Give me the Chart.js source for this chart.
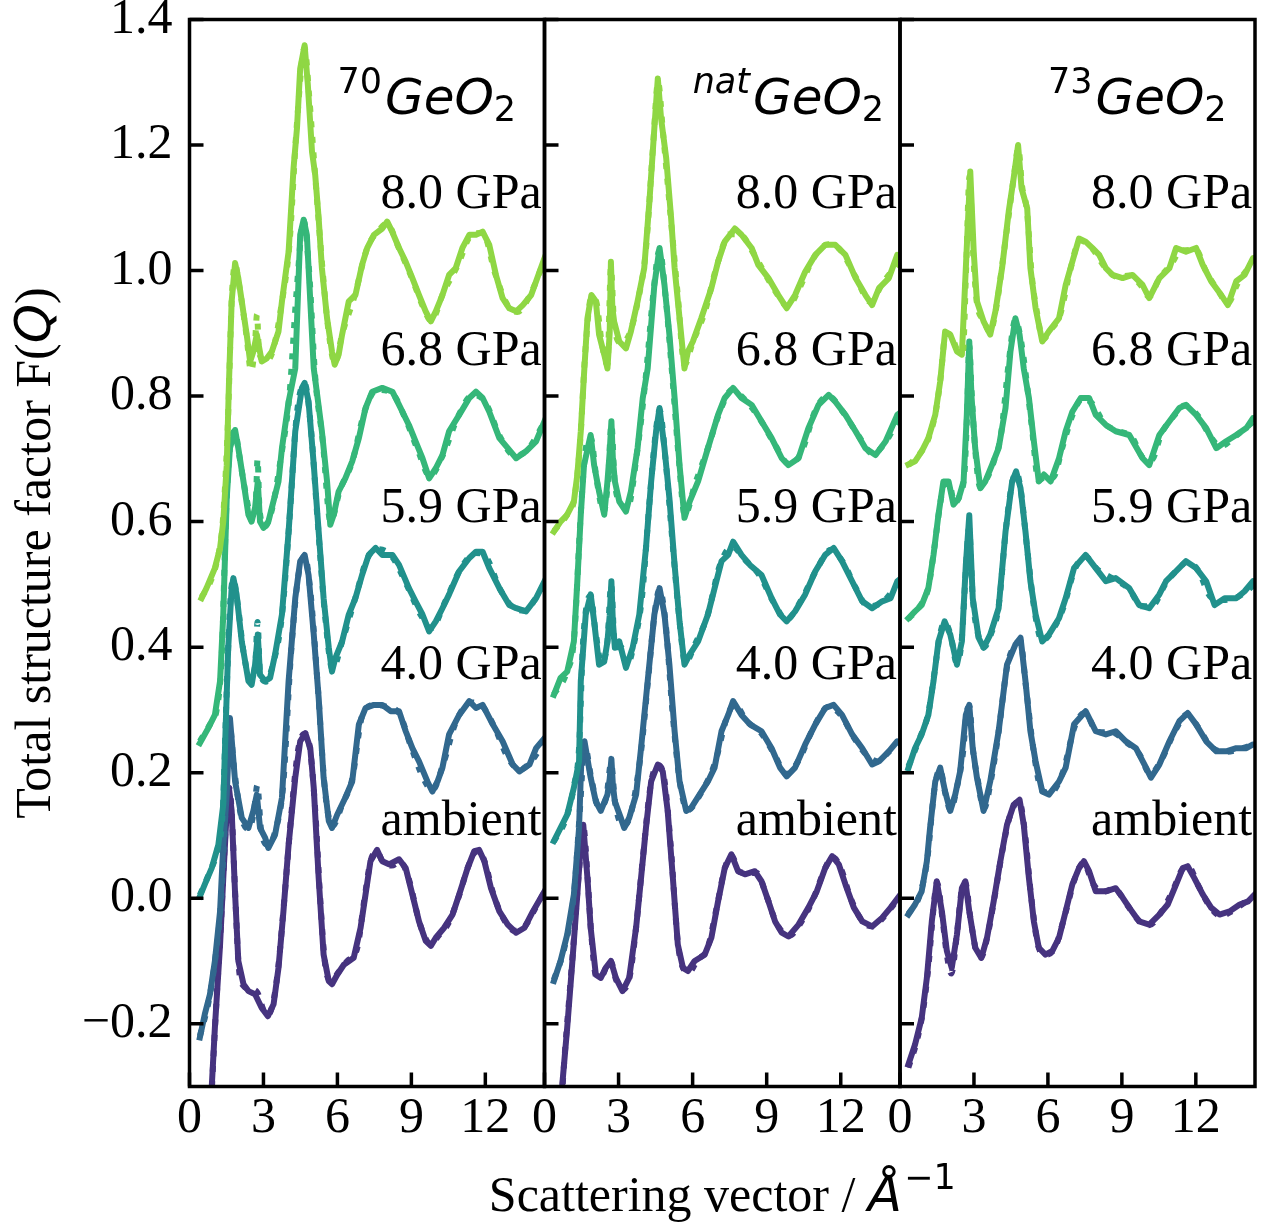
<!DOCTYPE html>
<html>
<head>
<meta charset="utf-8">
<title>Total structure factor of GeO2 under pressure</title>
<script src="https://cdn.jsdelivr.net/npm/chart.js@4.4.1/dist/chart.umd.min.js"></script>
<style>
  html, body { margin: 0; padding: 0; background: #ffffff; }
  #fig { position: relative; width: 1271px; height: 1226px; overflow: hidden; }
  #fig canvas { position: absolute; left: 0; top: 0; }
</style>
</head>
<body>
<div id="fig">
  <canvas id="panel70" width="1271" height="1226"></canvas>
  <canvas id="panelNat" width="1271" height="1226"></canvas>
  <canvas id="panel73" width="1271" height="1226"></canvas>
</div>
<script>
// ---------------------------------------------------------------------------
// Pressure points, vertical offsets between curves and tick values
// ---------------------------------------------------------------------------
const pressures = ['ambient', '4.0 GPa', '5.9 GPa', '6.8 GPa', '8.0 GPa'];
const offsets   = [0, 0.25, 0.5, 0.75, 1.0];
const colours   = ['#46337f', '#31688e', '#21918c', '#35b779', '#8fd744'];
const xTicks    = [0, 3, 6, 9, 12];
const yTicks    = [-0.2, 0, 0.2, 0.4, 0.6, 0.8, 1.0, 1.2, 1.4];

// ---------------------------------------------------------------------------
// Measured F(Q), pairs of [Q (1/Å), F(Q)] -- 70GeO2
// ---------------------------------------------------------------------------
const ge70_amb = [[0.82,-0.37],[0.90,-0.302],[1.03,-0.206],[1.24,-0.074],[1.37,0.032],[1.51,0.139],[1.60,0.176],[1.71,0.139],[1.85,0.006],[1.98,-0.100],[2.19,-0.137],[2.39,-0.148],[2.66,-0.153],[2.93,-0.175],[3.18,-0.188],[3.41,-0.169],[3.61,-0.111],[3.81,-0.021],[4.02,0.085],[4.29,0.192],[4.49,0.250],[4.70,0.263],[4.90,0.239],[5.04,0.176],[5.24,0.032],[5.44,-0.090],[5.65,-0.132],[5.78,-0.137],[5.99,-0.122],[6.26,-0.106],[6.66,-0.095],[6.94,-0.047],[7.14,0.006],[7.34,0.059],[7.61,0.077],[7.82,0.059],[8.09,0.054],[8.50,0.062],[8.77,0.048],[9.04,0.006],[9.31,-0.037],[9.58,-0.068],[9.79,-0.076],[9.99,-0.063],[10.33,-0.047],[10.67,-0.026],[10.94,0.006],[11.28,0.048],[11.55,0.075],[11.75,0.077],[11.96,0.059],[12.23,0.016],[12.57,-0.021],[12.91,-0.042],[13.25,-0.055],[13.59,-0.047],[13.93,-0.021],[14.40,0.011]];
const ge70_p40 = [[0.42,-0.472],[0.62,-0.435],[0.83,-0.403],[1.03,-0.350],[1.24,-0.271],[1.37,-0.165],[1.51,-0.085],[1.64,0.037],[1.85,-0.064],[2.12,-0.122],[2.39,-0.138],[2.59,-0.111],[2.73,-0.085],[2.86,-0.138],[3.07,-0.154],[3.20,-0.170],[3.47,-0.149],[3.75,-0.090],[4.02,0.096],[4.29,0.228],[4.49,0.287],[4.67,0.297],[4.83,0.265],[5.04,0.170],[5.24,0.069],[5.44,-0.058],[5.65,-0.127],[5.78,-0.138],[5.99,-0.117],[6.32,-0.090],[6.60,-0.064],[6.87,0.027],[7.14,0.053],[7.48,0.058],[7.82,0.058],[8.16,0.048],[8.50,0.048],[8.77,0.016],[9.04,-0.011],[9.31,-0.032],[9.65,-0.064],[9.85,-0.080],[10.06,-0.064],[10.26,-0.042],[10.53,0.011],[10.94,0.042],[11.35,0.064],[11.62,0.053],[11.89,0.058],[12.30,0.027],[12.70,0.000],[13.11,-0.037],[13.38,-0.048],[13.79,-0.037],[14.06,-0.011],[14.40,0.005]];
const ge70_p59 = [[0.42,-0.497],[0.62,-0.478],[0.90,-0.452],[1.17,-0.415],[1.37,-0.351],[1.44,-0.261],[1.57,-0.101],[1.71,-0.006],[1.78,0.010],[1.91,-0.016],[2.12,-0.091],[2.39,-0.154],[2.52,-0.160],[2.66,-0.128],[2.77,-0.080],[2.86,-0.144],[3.07,-0.154],[3.27,-0.149],[3.47,-0.112],[3.75,-0.048],[4.02,0.084],[4.29,0.244],[4.56,0.313],[4.67,0.321],[4.83,0.291],[5.04,0.191],[5.24,0.084],[5.44,-0.022],[5.65,-0.101],[5.78,-0.139],[5.92,-0.117],[6.19,-0.091],[6.46,-0.048],[6.73,-0.022],[7.00,0.015],[7.27,0.047],[7.55,0.058],[7.82,0.047],[8.23,0.047],[8.50,0.031],[8.90,-0.006],[9.17,-0.027],[9.45,-0.048],[9.72,-0.075],[9.99,-0.059],[10.26,-0.038],[10.53,-0.016],[10.94,0.021],[11.35,0.042],[11.62,0.052],[11.89,0.052],[12.16,0.026],[12.57,-0.006],[12.97,-0.033],[13.25,-0.038],[13.65,-0.043],[14.06,-0.022],[14.40,0.005]];
const ge70_p68 = [[0.42,-0.503],[0.76,-0.479],[1.03,-0.458],[1.24,-0.404],[1.37,-0.298],[1.51,-0.113],[1.64,-0.033],[1.85,-0.004],[1.98,-0.033],[2.19,-0.086],[2.39,-0.139],[2.52,-0.150],[2.66,-0.128],[2.77,-0.086],[2.86,-0.150],[3.00,-0.160],[3.20,-0.150],[3.34,-0.128],[3.61,-0.086],[3.75,-0.033],[4.02,0.041],[4.29,0.094],[4.49,0.307],[4.63,0.331],[4.76,0.307],[4.90,0.201],[5.04,0.094],[5.37,-0.006],[5.58,-0.086],[5.71,-0.155],[5.85,-0.139],[6.05,-0.102],[6.32,-0.081],[6.60,-0.054],[6.87,-0.017],[7.14,0.031],[7.41,0.057],[7.82,0.063],[8.23,0.057],[8.50,0.036],[8.90,0.004],[9.17,-0.022],[9.45,-0.049],[9.72,-0.081],[9.99,-0.065],[10.26,-0.044],[10.53,-0.006],[10.94,0.020],[11.35,0.047],[11.62,0.057],[11.89,0.047],[12.16,0.025],[12.57,-0.017],[12.91,-0.033],[13.25,-0.049],[13.65,-0.038],[14.06,-0.022],[14.40,0.010]];
const ge70_p80 = [[0.49,-0.522],[0.69,-0.506],[1.03,-0.474],[1.24,-0.442],[1.37,-0.400],[1.51,-0.310],[1.60,-0.180],[1.71,-0.049],[1.85,0.012],[1.98,-0.012],[2.12,-0.049],[2.32,-0.102],[2.46,-0.145],[2.59,-0.129],[2.73,-0.102],[2.93,-0.145],[3.13,-0.140],[3.34,-0.129],[3.61,-0.097],[3.75,-0.049],[4.02,0.030],[4.22,0.163],[4.36,0.227],[4.49,0.322],[4.67,0.359],[4.80,0.296],[4.97,0.189],[5.10,0.152],[5.24,0.083],[5.37,0.004],[5.58,-0.076],[5.78,-0.129],[5.89,-0.150],[6.05,-0.134],[6.19,-0.102],[6.46,-0.049],[6.73,-0.039],[7.00,0.009],[7.21,0.036],[7.48,0.057],[7.82,0.067],[8.02,0.078],[8.22,0.062],[8.50,0.036],[8.77,0.014],[9.04,-0.012],[9.31,-0.039],[9.58,-0.065],[9.79,-0.081],[9.99,-0.065],[10.26,-0.039],[10.53,-0.007],[10.80,0.004],[11.07,0.036],[11.35,0.057],[11.62,0.057],[11.89,0.062],[12.16,0.041],[12.43,-0.007],[12.70,-0.044],[12.97,-0.060],[13.25,-0.065],[13.52,-0.055],[13.86,-0.039],[14.06,-0.017],[14.40,0.020]];

// Model F(Q), 70GeO2
const fit70_amb = [[0.80,-0.40],[0.95,-0.27],[1.10,-0.16],[1.25,-0.06],[1.40,0.06],[1.52,0.15],[1.62,0.175],[1.72,0.13],[1.85,0.01],[2.0,-0.11],[2.2,-0.14],[2.5,-0.145],[2.75,-0.15],[3.0,-0.178],[3.18,-0.186],[3.4,-0.165],[3.6,-0.11],[3.85,0.0],[4.1,0.12],[4.4,0.235],[4.68,0.262],[4.9,0.235],[5.1,0.14],[5.3,0.0],[5.5,-0.105],[5.75,-0.132],[6.0,-0.12],[6.4,-0.1],[6.8,-0.08],[7.1,0.0],[7.35,0.06],[7.6,0.074],[7.85,0.057],[8.2,0.052],[8.55,0.058],[8.9,0.03],[9.3,-0.035],[9.6,-0.066],[9.8,-0.073],[10.1,-0.06],[10.5,-0.04],[10.9,0.0],[11.3,0.05],[11.55,0.072],[11.75,0.075],[12.0,0.055],[12.3,0.01],[12.7,-0.03],[13.2,-0.052],[13.6,-0.045],[14.0,-0.018],[14.45,0.014]];
const fit70_p40 = [[0.42,-0.47],[0.8,-0.41],[1.05,-0.345],[1.25,-0.27],[1.45,-0.12],[1.62,0.03],[1.8,-0.04],[2.1,-0.12],[2.4,-0.14],[2.62,-0.11],[2.75,-0.07],[2.9,-0.14],[3.2,-0.165],[3.5,-0.14],[3.8,-0.07],[4.1,0.13],[4.4,0.26],[4.67,0.295],[4.9,0.24],[5.2,0.09],[5.5,-0.08],[5.8,-0.135],[6.2,-0.1],[6.6,-0.06],[7.0,0.04],[7.5,0.058],[8.0,0.055],[8.5,0.045],[9.0,-0.01],[9.5,-0.06],[9.85,-0.078],[10.3,-0.035],[10.8,0.03],[11.4,0.062],[11.9,0.055],[12.4,0.02],[12.9,-0.025],[13.4,-0.045],[13.9,-0.03],[14.45,0.005]];
const fit70_p59 = [[0.42,-0.495],[0.8,-0.46],[1.15,-0.42],[1.35,-0.36],[1.5,-0.18],[1.65,-0.03],[1.78,0.008],[1.95,-0.03],[2.2,-0.11],[2.5,-0.155],[2.68,-0.12],[2.76,-0.06],[2.86,-0.14],[3.1,-0.155],[3.4,-0.125],[3.75,-0.05],[4.05,0.1],[4.35,0.27],[4.67,0.32],[4.9,0.26],[5.2,0.1],[5.5,-0.05],[5.8,-0.135],[6.2,-0.09],[6.7,-0.025],[7.2,0.04],[7.6,0.056],[8.2,0.045],[8.8,0.0],[9.4,-0.05],[9.8,-0.07],[10.4,-0.025],[11.0,0.025],[11.6,0.05],[12.0,0.045],[12.6,-0.008],[13.1,-0.036],[13.6,-0.042],[14.0,-0.025],[14.45,0.006]];
const fit70_p68 = [[0.42,-0.50],[0.8,-0.475],[1.1,-0.45],[1.3,-0.37],[1.5,-0.12],[1.68,-0.02],[1.85,-0.006],[2.0,-0.04],[2.3,-0.11],[2.55,-0.15],[2.7,-0.11],[2.76,-0.05],[2.84,-0.13],[3.05,-0.158],[3.35,-0.13],[3.7,-0.05],[4.05,0.05],[4.35,0.22],[4.63,0.33],[4.85,0.25],[5.1,0.08],[5.4,-0.02],[5.72,-0.15],[6.1,-0.1],[6.6,-0.055],[7.1,0.025],[7.6,0.06],[8.2,0.055],[8.8,0.01],[9.3,-0.04],[9.75,-0.078],[10.3,-0.042],[10.9,0.018],[11.5,0.052],[12.0,0.04],[12.6,-0.015],[13.2,-0.045],[13.7,-0.036],[14.45,0.012]];
const fit70_p80 = [[0.49,-0.52],[0.8,-0.50],[1.1,-0.465],[1.35,-0.40],[1.55,-0.25],[1.72,-0.04],[1.85,0.01],[2.0,-0.02],[2.3,-0.10],[2.5,-0.16],[2.65,-0.12],[2.74,-0.07],[2.82,-0.13],[3.1,-0.145],[3.4,-0.125],[3.75,-0.05],[4.05,0.04],[4.35,0.23],[4.67,0.355],[4.85,0.28],[5.1,0.15],[5.4,0.0],[5.65,-0.1],[5.9,-0.148],[6.2,-0.1],[6.7,-0.04],[7.2,0.035],[7.7,0.065],[8.0,0.075],[8.5,0.035],[9.0,-0.01],[9.5,-0.06],[9.8,-0.08],[10.3,-0.035],[10.9,0.01],[11.4,0.055],[11.9,0.06],[12.4,-0.005],[12.9,-0.055],[13.3,-0.066],[13.8,-0.04],[14.45,0.022]];

// ---------------------------------------------------------------------------
// Measured F(Q) -- natGeO2
// ---------------------------------------------------------------------------
const geNat_amb = [[0.62,-0.37],[0.72,-0.297],[0.92,-0.206],[1.13,-0.100],[1.33,0.006],[1.47,0.085],[1.57,0.117],[1.74,0.032],[1.87,-0.047],[2.08,-0.122],[2.28,-0.127],[2.48,-0.111],[2.69,-0.100],[2.89,-0.127],[3.16,-0.148],[3.43,-0.127],[3.71,-0.047],[3.91,0.032],[4.11,0.112],[4.32,0.186],[4.59,0.213],[4.79,0.202],[4.99,0.139],[5.20,0.032],[5.40,-0.074],[5.61,-0.111],[5.81,-0.116],[6.08,-0.100],[6.49,-0.090],[6.76,-0.063],[7.03,-0.005],[7.30,0.048],[7.57,0.070],[7.84,0.043],[8.12,0.038],[8.52,0.043],[8.79,0.027],[9.07,-0.005],[9.34,-0.037],[9.61,-0.055],[9.88,-0.061],[10.29,-0.042],[10.69,-0.015],[11.03,0.011],[11.37,0.048],[11.65,0.067],[11.92,0.054],[12.19,0.022],[12.53,-0.015],[12.87,-0.037],[13.27,-0.045],[13.68,-0.031],[14.02,-0.015],[14.36,0.003]];
const geNat_p40 = [[0.38,-0.382],[0.65,-0.350],[0.92,-0.308],[1.19,-0.244],[1.40,-0.138],[1.49,-0.032],[1.62,0.000],[1.87,-0.058],[2.08,-0.096],[2.28,-0.111],[2.55,-0.085],[2.64,-0.06],[2.71,-0.028],[2.77,-0.07],[2.85,-0.096],[3.09,-0.122],[3.23,-0.138],[3.43,-0.122],[3.71,-0.085],[3.91,-0.011],[4.18,0.096],[4.45,0.202],[4.66,0.244],[4.86,0.202],[5.06,0.122],[5.27,0.016],[5.47,-0.064],[5.74,-0.111],[5.94,-0.106],[6.28,-0.085],[6.62,-0.064],[6.89,-0.042],[7.17,0.016],[7.44,0.042],[7.64,0.064],[7.98,0.042],[8.32,0.027],[8.79,0.016],[9.20,-0.011],[9.54,-0.042],[9.81,-0.056],[10.15,-0.042],[10.56,-0.005],[10.97,0.027],[11.37,0.053],[11.71,0.058],[12.05,0.042],[12.46,0.011],[12.87,-0.011],[13.27,-0.037],[13.55,-0.032],[13.95,-0.016],[14.29,0.000],[14.45,-0.005]];
const geNat_p59 = [[0.38,-0.409],[0.65,-0.388],[0.92,-0.367],[1.19,-0.324],[1.40,-0.282],[1.47,-0.154],[1.67,-0.048],[1.87,-0.016],[2.01,-0.059],[2.21,-0.128],[2.42,-0.123],[2.55,-0.091],[2.64,-0.05],[2.71,0.005],[2.77,-0.06],[2.85,-0.101],[3.03,-0.091],[3.30,-0.133],[3.57,-0.101],[3.84,-0.048],[4.11,0.058],[4.32,0.164],[4.52,0.244],[4.66,0.281],[4.86,0.217],[5.06,0.137],[5.27,0.031],[5.47,-0.059],[5.67,-0.128],[5.88,-0.112],[6.22,-0.091],[6.62,-0.048],[6.89,-0.006],[7.17,0.037],[7.44,0.047],[7.64,0.068],[7.98,0.047],[8.32,0.031],[8.79,0.015],[9.20,-0.022],[9.54,-0.048],[9.81,-0.059],[10.15,-0.043],[10.56,-0.016],[10.97,0.021],[11.37,0.047],[11.71,0.058],[12.05,0.037],[12.46,0.005],[12.87,-0.027],[13.27,-0.038],[13.68,-0.027],[14.02,-0.022],[14.29,0.005],[14.45,0.010]];
const geNat_p68 = [[0.38,-0.426],[0.65,-0.399],[0.92,-0.389],[1.19,-0.341],[1.33,-0.245],[1.47,-0.139],[1.60,-0.060],[1.87,-0.012],[2.01,-0.060],[2.21,-0.102],[2.42,-0.139],[2.55,-0.086],[2.64,-0.04],[2.71,0.010],[2.77,-0.05],[2.85,-0.086],[3.03,-0.118],[3.30,-0.134],[3.50,-0.102],[3.77,-0.033],[3.98,0.047],[4.18,0.094],[4.45,0.227],[4.66,0.286],[4.86,0.227],[5.06,0.148],[5.27,0.047],[5.47,-0.060],[5.67,-0.144],[5.88,-0.118],[6.22,-0.086],[6.62,-0.033],[7.03,0.020],[7.30,0.047],[7.64,0.063],[7.98,0.047],[8.39,0.036],[8.79,0.010],[9.20,-0.017],[9.61,-0.049],[9.88,-0.060],[10.29,-0.049],[10.69,-0.001],[11.10,0.036],[11.51,0.052],[11.78,0.041],[12.19,0.020],[12.60,-0.006],[13.00,-0.033],[13.41,-0.044],[13.82,-0.022],[14.29,0.020],[14.45,0.025]];
const geNat_p80 = [[0.38,-0.416],[0.65,-0.400],[0.92,-0.389],[1.19,-0.368],[1.33,-0.325],[1.47,-0.256],[1.60,-0.166],[1.74,-0.076],[1.90,-0.039],[2.08,-0.049],[2.21,-0.102],[2.42,-0.134],[2.55,-0.156],[2.64,-0.10],[2.69,0.014],[2.75,-0.06],[2.82,-0.081],[3.03,-0.113],[3.30,-0.124],[3.50,-0.097],[3.77,-0.049],[4.04,0.004],[4.25,0.110],[4.45,0.227],[4.59,0.306],[4.72,0.243],[4.93,0.179],[5.13,0.083],[5.27,0.004],[5.47,-0.076],[5.67,-0.156],[5.81,-0.129],[6.01,-0.113],[6.35,-0.076],[6.76,-0.028],[7.03,0.014],[7.30,0.046],[7.71,0.067],[7.98,0.057],[8.39,0.036],[8.66,0.009],[9.07,-0.012],[9.47,-0.039],[9.81,-0.060],[10.15,-0.039],[10.56,-0.002],[10.97,0.025],[11.37,0.041],[11.78,0.041],[12.19,0.025],[12.60,-0.012],[13.00,-0.039],[13.27,-0.055],[13.55,-0.028],[13.95,-0.012],[14.29,0.025],[14.45,0.020]];

// Model F(Q), natGeO2
const fitNat_amb = [[0.62,-0.37],[0.8,-0.26],[1.0,-0.16],[1.2,-0.06],[1.4,0.045],[1.57,0.115],[1.75,0.03],[1.9,-0.06],[2.1,-0.125],[2.3,-0.125],[2.5,-0.11],[2.68,-0.1],[2.9,-0.13],[3.15,-0.146],[3.45,-0.125],[3.7,-0.05],[4.0,0.07],[4.3,0.18],[4.6,0.212],[4.85,0.19],[5.1,0.09],[5.4,-0.07],[5.6,-0.11],[5.85,-0.118],[6.2,-0.098],[6.6,-0.08],[7.0,-0.01],[7.3,0.047],[7.57,0.068],[7.9,0.042],[8.3,0.04],[8.6,0.04],[9.0,0.003],[9.4,-0.04],[9.9,-0.06],[10.4,-0.038],[10.9,0.0],[11.35,0.046],[11.65,0.066],[12.0,0.048],[12.4,0.0],[12.9,-0.038],[13.3,-0.045],[13.8,-0.027],[14.45,0.006]];
const fitNat_p40 = [[0.38,-0.38],[0.8,-0.33],[1.2,-0.24],[1.45,-0.10],[1.62,-0.005],[1.9,-0.06],[2.2,-0.105],[2.5,-0.09],[2.7,-0.035],[2.85,-0.095],[3.2,-0.135],[3.5,-0.115],[3.9,-0.02],[4.2,0.1],[4.45,0.2],[4.66,0.242],[4.9,0.19],[5.2,0.04],[5.5,-0.07],[5.8,-0.11],[6.3,-0.085],[6.9,-0.035],[7.4,0.04],[7.7,0.058],[8.2,0.032],[8.8,0.012],[9.3,-0.02],[9.8,-0.052],[10.3,-0.03],[10.9,0.022],[11.5,0.055],[12.0,0.042],[12.5,0.008],[13.0,-0.02],[13.5,-0.032],[14.0,-0.015],[14.45,-0.004]];
const fitNat_p59 = [[0.38,-0.41],[0.9,-0.37],[1.2,-0.32],[1.4,-0.26],[1.55,-0.1],[1.7,-0.035],[1.87,-0.018],[2.05,-0.07],[2.3,-0.125],[2.55,-0.09],[2.7,0.0],[2.85,-0.1],[3.1,-0.1],[3.35,-0.128],[3.65,-0.09],[3.95,-0.02],[4.25,0.13],[4.5,0.24],[4.66,0.278],[4.9,0.2],[5.2,0.06],[5.5,-0.07],[5.7,-0.125],[6.1,-0.095],[6.6,-0.05],[7.1,0.03],[7.6,0.06],[8.1,0.04],[8.7,0.015],[9.3,-0.03],[9.8,-0.056],[10.4,-0.025],[11.0,0.022],[11.6,0.055],[12.1,0.035],[12.6,-0.005],[13.1,-0.035],[13.7,-0.028],[14.45,0.008]];
const fitNat_p68 = [[0.38,-0.425],[0.9,-0.39],[1.2,-0.335],[1.45,-0.15],[1.65,-0.04],[1.87,-0.015],[2.1,-0.08],[2.4,-0.135],[2.58,-0.08],[2.71,0.005],[2.84,-0.085],[3.1,-0.12],[3.35,-0.13],[3.75,-0.04],[4.1,0.08],[4.4,0.21],[4.66,0.283],[4.9,0.21],[5.2,0.07],[5.45,-0.055],[5.68,-0.14],[6.1,-0.09],[6.6,-0.035],[7.1,0.025],[7.6,0.06],[8.1,0.045],[8.7,0.015],[9.3,-0.025],[9.9,-0.058],[10.4,-0.04],[11.0,0.03],[11.5,0.05],[12.1,0.024],[12.7,-0.012],[13.3,-0.042],[13.8,-0.024],[14.45,0.022]];
const fitNat_p80 = [[0.38,-0.415],[0.9,-0.39],[1.2,-0.365],[1.45,-0.27],[1.65,-0.13],[1.9,-0.042],[2.1,-0.05],[2.3,-0.11],[2.55,-0.15],[2.69,0.005],[2.82,-0.085],[3.1,-0.115],[3.45,-0.1],[3.8,-0.045],[4.1,0.03],[4.4,0.2],[4.6,0.3],[4.8,0.22],[5.1,0.09],[5.4,-0.04],[5.67,-0.15],[6.0,-0.115],[6.5,-0.065],[7.0,0.01],[7.5,0.058],[7.9,0.058],[8.5,0.025],[9.0,-0.01],[9.5,-0.042],[9.85,-0.058],[10.3,-0.03],[10.9,0.02],[11.5,0.042],[12.0,0.032],[12.6,-0.01],[13.2,-0.05],[13.7,-0.02],[14.45,0.018]];

// ---------------------------------------------------------------------------
// Measured F(Q) -- 73GeO2
// ---------------------------------------------------------------------------
const ge73_amb = [[0.34,-0.265],[0.61,-0.233],[0.88,-0.191],[1.09,-0.127],[1.29,-0.037],[1.49,0.027],[1.70,-0.021],[1.90,-0.084],[2.10,-0.111],[2.31,-0.058],[2.51,0.016],[2.65,0.027],[2.81,-0.021],[3.05,-0.079],[3.30,-0.095],[3.53,-0.063],[3.80,-0.005],[4.07,0.059],[4.34,0.117],[4.61,0.149],[4.85,0.157],[5.02,0.117],[5.23,0.032],[5.43,-0.037],[5.63,-0.079],[5.90,-0.090],[6.18,-0.084],[6.45,-0.063],[6.72,-0.021],[6.99,0.022],[7.26,0.048],[7.46,0.059],[7.67,0.043],[7.94,0.011],[8.35,0.011],[8.75,0.016],[9.03,0.001],[9.30,-0.015],[9.70,-0.037],[10.11,-0.042],[10.52,-0.026],[10.86,-0.010],[11.20,0.022],[11.47,0.048],[11.67,0.051],[11.94,0.032],[12.28,0.006],[12.62,-0.015],[12.96,-0.026],[13.37,-0.021],[13.78,-0.010],[14.12,-0.005],[14.39,0.006]];
const ge73_p40 = [[0.34,-0.276],[0.61,-0.260],[0.88,-0.239],[1.09,-0.191],[1.22,-0.138],[1.43,-0.064],[1.63,-0.042],[1.83,-0.080],[2.04,-0.111],[2.24,-0.085],[2.44,-0.048],[2.67,0.042],[2.81,0.058],[2.95,-0.011],[3.12,-0.058],[3.39,-0.111],[3.66,-0.064],[4.00,0.016],[4.34,0.122],[4.68,0.154],[4.89,0.165],[5.09,0.096],[5.29,0.016],[5.50,-0.032],[5.77,-0.080],[6.04,-0.085],[6.45,-0.064],[6.72,-0.042],[7.06,0.027],[7.53,0.048],[7.94,0.016],[8.35,0.011],[8.75,0.016],[9.16,0.000],[9.57,-0.011],[9.98,-0.042],[10.18,-0.058],[10.52,-0.037],[10.93,0.000],[11.33,0.032],[11.67,0.045],[12.01,0.027],[12.42,0.000],[12.83,-0.016],[13.23,-0.016],[13.64,-0.011],[14.05,-0.011],[14.32,-0.005],[14.45,-0.005]];
const ge73_p59 = [[0.34,-0.293],[0.61,-0.261],[0.88,-0.239],[1.15,-0.208],[1.36,-0.154],[1.56,-0.091],[1.81,-0.059],[2.04,-0.080],[2.31,-0.128],[2.51,-0.091],[2.67,0.031],[2.81,0.110],[2.95,-0.022],[3.19,-0.085],[3.39,-0.101],[3.66,-0.080],[4.00,-0.038],[4.28,0.084],[4.55,0.164],[4.71,0.180],[4.89,0.153],[5.09,0.084],[5.29,0.005],[5.50,-0.048],[5.77,-0.091],[6.04,-0.080],[6.45,-0.054],[6.72,-0.022],[7.06,0.026],[7.53,0.047],[7.94,0.026],[8.35,0.005],[8.75,0.010],[9.30,-0.006],[9.70,-0.033],[10.11,-0.038],[10.52,-0.016],[10.79,0.005],[11.20,0.021],[11.60,0.037],[12.01,0.026],[12.42,0.005],[12.76,-0.033],[13.17,-0.022],[13.64,-0.022],[13.98,-0.011],[14.32,0.005],[14.45,0.000]];
const ge73_p68 = [[0.34,-0.304],[0.61,-0.293],[0.88,-0.283],[1.15,-0.256],[1.36,-0.203],[1.56,-0.139],[1.76,-0.086],[1.97,-0.086],[2.17,-0.123],[2.38,-0.113],[2.58,-0.086],[2.71,0.020],[2.81,0.137],[2.90,0.050],[3.05,-0.033],[3.26,-0.097],[3.46,-0.086],[3.73,-0.060],[4.00,-0.033],[4.28,0.031],[4.48,0.121],[4.68,0.174],[4.85,0.148],[5.02,0.094],[5.23,0.047],[5.43,-0.022],[5.63,-0.086],[5.84,-0.075],[6.11,-0.086],[6.45,-0.049],[6.72,-0.006],[6.99,0.025],[7.33,0.047],[7.67,0.047],[7.94,0.020],[8.35,0.004],[8.75,-0.006],[9.30,-0.012],[9.84,-0.049],[10.11,-0.060],[10.52,-0.012],[10.93,0.010],[11.33,0.031],[11.60,0.036],[12.01,0.020],[12.42,-0.001],[12.83,-0.033],[13.23,-0.022],[13.64,-0.012],[14.05,-0.001],[14.32,0.015],[14.45,0.015]];
const ge73_p80 = [[0.34,-0.309],[0.61,-0.304],[0.88,-0.288],[1.15,-0.267],[1.43,-0.230],[1.63,-0.177],[1.83,-0.097],[2.04,-0.102],[2.31,-0.129],[2.51,-0.134],[2.67,0.004],[2.85,0.158],[2.99,0.030],[3.12,-0.049],[3.39,-0.081],[3.66,-0.102],[3.87,-0.065],[4.14,0.004],[4.41,0.094],[4.61,0.147],[4.79,0.200],[4.93,0.131],[5.16,0.099],[5.29,0.004],[5.50,-0.060],[5.77,-0.113],[6.04,-0.097],[6.45,-0.076],[6.72,-0.023],[6.99,0.014],[7.26,0.051],[7.53,0.046],[7.80,0.036],[8.08,0.025],[8.35,0.004],[8.62,-0.007],[9.03,-0.012],[9.43,-0.007],[9.84,-0.023],[10.11,-0.044],[10.52,-0.012],[10.93,0.004],[11.20,0.036],[11.60,0.030],[12.01,0.036],[12.28,0.009],[12.62,-0.017],[13.03,-0.039],[13.30,-0.055],[13.64,-0.017],[13.98,-0.007],[14.32,0.020],[14.45,0.020]];

// Model F(Q), 73GeO2
const fit73_amb = [[0.34,-0.27],[0.7,-0.225],[0.95,-0.175],[1.15,-0.11],[1.35,-0.02],[1.5,0.025],[1.7,-0.025],[1.9,-0.09],[2.08,-0.12],[2.3,-0.06],[2.5,0.012],[2.65,0.025],[2.85,-0.03],[3.1,-0.085],[3.3,-0.093],[3.55,-0.06],[3.85,0.005],[4.15,0.075],[4.45,0.13],[4.83,0.155],[5.05,0.11],[5.3,0.01],[5.6,-0.075],[5.9,-0.09],[6.3,-0.078],[6.7,-0.025],[7.1,0.032],[7.45,0.057],[7.8,0.025],[8.2,0.01],[8.7,0.015],[9.2,-0.01],[9.7,-0.036],[10.1,-0.043],[10.6,-0.022],[11.1,0.015],[11.45,0.046],[11.7,0.05],[12.1,0.02],[12.6,-0.015],[13.0,-0.028],[13.5,-0.02],[14.0,-0.006],[14.45,0.006]];
const fit73_p40 = [[0.34,-0.275],[0.8,-0.245],[1.1,-0.19],[1.4,-0.075],[1.62,-0.045],[1.85,-0.085],[2.05,-0.11],[2.3,-0.075],[2.55,-0.02],[2.72,0.05],[2.82,0.055],[2.95,-0.01],[3.15,-0.06],[3.4,-0.108],[3.7,-0.06],[4.0,0.015],[4.35,0.12],[4.7,0.155],[4.88,0.16],[5.1,0.09],[5.4,-0.01],[5.75,-0.078],[6.1,-0.082],[6.6,-0.05],[7.1,0.025],[7.5,0.045],[8.0,0.015],[8.6,0.014],[9.2,-0.002],[9.7,-0.02],[10.15,-0.052],[10.6,-0.03],[11.1,0.012],[11.65,0.043],[12.1,0.022],[12.6,-0.008],[13.2,-0.017],[13.8,-0.012],[14.45,-0.004]];
const fit73_p59 = [[0.34,-0.29],[0.8,-0.245],[1.15,-0.205],[1.4,-0.14],[1.6,-0.085],[1.8,-0.06],[2.05,-0.08],[2.3,-0.125],[2.5,-0.09],[2.68,0.03],[2.8,0.09],[2.95,-0.02],[3.2,-0.085],[3.4,-0.1],[3.7,-0.078],[4.0,-0.035],[4.3,0.09],[4.55,0.162],[4.72,0.178],[4.9,0.15],[5.15,0.06],[5.45,-0.04],[5.77,-0.09],[6.1,-0.078],[6.6,-0.04],[7.1,0.025],[7.5,0.045],[8.0,0.024],[8.6,0.01],[9.3,-0.008],[9.8,-0.035],[10.2,-0.035],[10.8,0.003],[11.3,0.025],[11.65,0.036],[12.1,0.022],[12.6,-0.02],[13.1,-0.025],[13.7,-0.02],[14.45,0.002]];
const fit73_p68 = [[0.34,-0.305],[0.8,-0.285],[1.15,-0.255],[1.4,-0.19],[1.6,-0.13],[1.8,-0.09],[2.0,-0.09],[2.2,-0.12],[2.45,-0.105],[2.62,-0.07],[2.72,0.02],[2.81,0.13],[2.9,0.06],[3.05,-0.035],[3.25,-0.095],[3.5,-0.083],[3.8,-0.055],[4.1,-0.01],[4.4,0.1],[4.68,0.172],[4.88,0.145],[5.1,0.085],[5.35,0.0],[5.62,-0.085],[5.9,-0.078],[6.2,-0.08],[6.6,-0.03],[7.0,0.02],[7.4,0.046],[7.8,0.038],[8.3,0.006],[8.9,-0.006],[9.4,-0.015],[9.9,-0.05],[10.2,-0.052],[10.6,-0.01],[11.1,0.018],[11.55,0.035],[12.1,0.018],[12.6,-0.015],[13.0,-0.03],[13.6,-0.014],[14.45,0.013]];
const fit73_p80 = [[0.34,-0.31],[0.8,-0.292],[1.15,-0.268],[1.45,-0.225],[1.65,-0.17],[1.85,-0.1],[2.1,-0.105],[2.35,-0.128],[2.55,-0.13],[2.68,0.0],[2.82,0.15],[2.95,0.04],[3.1,-0.045],[3.4,-0.08],[3.65,-0.098],[3.9,-0.06],[4.15,0.01],[4.45,0.1],[4.62,0.15],[4.8,0.195],[4.95,0.135],[5.15,0.095],[5.35,-0.01],[5.55,-0.065],[5.8,-0.11],[6.1,-0.095],[6.5,-0.07],[6.9,0.0],[7.3,0.048],[7.8,0.035],[8.3,0.006],[8.8,-0.01],[9.3,-0.008],[9.8,-0.025],[10.1,-0.042],[10.5,-0.014],[11.0,0.01],[11.4,0.032],[12.0,0.033],[12.4,0.0],[12.9,-0.032],[13.3,-0.052],[13.7,-0.02],[14.45,0.02]];

// ---------------------------------------------------------------------------
// Figure layout (pixels) and fonts
// ---------------------------------------------------------------------------
const FIG_W = 1271, FIG_H = 1226;
const AREA_TOP = 19.5, AREA_BOTTOM = 1086.5;
const SERIF = '"Liberation Serif", "Times New Roman", serif';
const SANS = '"DejaVu Sans", sans-serif';
const X_MIN = 0, X_MAX = 14.4, Y_MIN = -0.3, Y_MAX = 1.4;
const LABEL_Q = 7.75, LABEL_LIFT = 0.1;     // pressure labels
const TITLE_Q = 6.0, TITLE_F = 1.25;        // sample names
const LINE_W = 6;

const panels = [
  { id: 'panel70', left: 189.5, right: 544.5, iso: '70', isoItalic: false,
    measured: [ge70_amb, ge70_p40, ge70_p59, ge70_p68, ge70_p80],
    model:    [fit70_amb, fit70_p40, fit70_p59, fit70_p68, fit70_p80],
    yLabels: true, xTitle: false },
  { id: 'panelNat', left: 544.5, right: 900, iso: 'nat', isoItalic: true,
    measured: [geNat_amb, geNat_p40, geNat_p59, geNat_p68, geNat_p80],
    model:    [fitNat_amb, fitNat_p40, fitNat_p59, fitNat_p68, fitNat_p80],
    yLabels: false, xTitle: true },
  { id: 'panel73', left: 900, right: 1255, iso: '73', isoItalic: false,
    measured: [ge73_amb, ge73_p40, ge73_p59, ge73_p68, ge73_p80],
    model:    [fit73_amb, fit73_p40, fit73_p59, fit73_p68, fit73_p80],
    yLabels: false, xTitle: false }
];

// Draw a run of differently styled text pieces starting at (x, y) on the baseline.
function drawRich(ctx, parts, x, y, align) {
  let total = 0;
  parts.forEach(p => { ctx.font = p.font; total += ctx.measureText(p.t).width + (p.gap || 0); });
  let cx = align === 'center' ? x - total / 2 : x;
  parts.forEach(p => {
    ctx.font = p.font;
    ctx.fillText(p.t, cx, y + (p.dy || 0));
    cx += ctx.measureText(p.t).width + (p.gap || 0);
  });
}

// Frame, inward ticks, pressure labels, sample name and axis titles.
const panelDecor = {
  id: 'panelDecor',
  afterDatasetsDraw(chart, args, opts) {
    const ctx = chart.ctx, a = chart.chartArea;
    const xs = chart.scales.x, ys = chart.scales.y;
    ctx.save();
    ctx.fillStyle = '#000';
    ctx.textAlign = 'left';
    ctx.textBaseline = 'alphabetic';

    // pressure labels
    ctx.font = '50px ' + SERIF;
    pressures.forEach((p, i) => {
      ctx.fillText(p, xs.getPixelForValue(LABEL_Q), ys.getPixelForValue(offsets[i] + LABEL_LIFT));
    });

    // sample name, e.g. 70GeO2
    const isoFont = (opts.isoItalic ? 'italic ' : '') + '35px ' + SANS;
    drawRich(ctx, [
      { t: opts.iso, font: isoFont, dy: -21, gap: 3 },
      { t: 'GeO', font: 'italic 50px ' + SANS },
      { t: '2', font: '35px ' + SANS, dy: 7 }
    ], xs.getPixelForValue(TITLE_Q), ys.getPixelForValue(TITLE_F));

    // frame
    ctx.strokeStyle = '#000';
    ctx.lineWidth = 3.5;
    ctx.strokeRect(a.left, a.top, a.right - a.left, a.bottom - a.top);

    // inward ticks on the bottom and left edges
    ctx.lineCap = 'butt';
    ctx.beginPath();
    xTicks.forEach(v => {
      const px = xs.getPixelForValue(v);
      ctx.moveTo(px, a.bottom); ctx.lineTo(px, a.bottom - 14);
    });
    yTicks.forEach(v => {
      const py = ys.getPixelForValue(v);
      ctx.moveTo(a.left, py); ctx.lineTo(a.left + 14, py);
    });
    ctx.stroke();

    // y-axis title
    if (opts.yTitle) {
      ctx.save();
      ctx.translate(50, (a.top + a.bottom) / 2);
      ctx.rotate(-Math.PI / 2);
      drawRich(ctx, [
        { t: 'Total structure factor F(', font: '50px ' + SERIF },
        { t: 'Q', font: 'italic 50px ' + SANS },
        { t: ')', font: '50px ' + SERIF }
      ], 0, 0, 'center');
      ctx.restore();
    }

    // x-axis title, centred under the whole figure (middle panel)
    if (opts.xTitle) {
      drawRich(ctx, [
        { t: 'Scattering vector / ', font: '50px ' + SERIF },
        { t: 'Å', font: 'italic 50px ' + SANS, gap: 2 },
        { t: '\u22121', font: '35px ' + SANS, dy: -22 }
      ], (a.left + a.right) / 2, 1211, 'center');
    }
    ctx.restore();
  }
};

// Tick labels may not push the plotting area around: the frame is fixed.
function noLabelPadding(s) {
  s.paddingTop = 0; s.paddingBottom = 0; s.paddingLeft = 0; s.paddingRight = 0;
}

function buildPanel(p) {
  const datasets = [];
  p.measured.forEach((pts, i) => {
    datasets.push({
      label: pressures[i] + ' measured',
      data: pts.map(([q, f]) => ({ x: q, y: f + offsets[i] })),
      borderColor: colours[i],
      borderWidth: LINE_W,
      borderJoinStyle: 'round',
      borderCapStyle: 'square',
      pointRadius: 0,
      tension: 0,
      clip: 0,
      order: 2 * (pressures.length - i) + 1
    });
    datasets.push({
      label: pressures[i] + ' model',
      data: p.model[i].map(([q, f]) => ({ x: q, y: f + offsets[i] })),
      borderColor: colours[i],
      borderWidth: LINE_W,
      borderDash: [6, 9.5],
      pointRadius: 0,
      cubicInterpolationMode: 'monotone',
      clip: 0,
      order: 2 * (pressures.length - i)
    });
  });

  const yWidth = p.yLabels ? p.left : 0;
  const padLeft = p.yLabels ? 0 : p.left;

  new Chart(document.getElementById(p.id), {
    type: 'line',
    data: { datasets },
    plugins: [panelDecor],
    options: {
      responsive: false,
      devicePixelRatio: 1,
      animation: false,
      events: [],
      layout: { padding: { left: padLeft, right: FIG_W - p.right, top: AREA_TOP, bottom: 0 } },
      plugins: {
        legend: { display: false },
        tooltip: { enabled: false },
        panelDecor: { iso: p.iso, isoItalic: p.isoItalic, yTitle: p.yLabels, xTitle: p.xTitle }
      },
      scales: {
        x: {
          type: 'linear', min: X_MIN, max: X_MAX,
          grid: { display: false, drawTicks: false },
          border: { display: false },
          afterBuildTicks: s => { s.ticks = xTicks.map(v => ({ value: v })); },
          afterFit: s => { s.height = FIG_H - AREA_BOTTOM; noLabelPadding(s); },
          ticks: {
            autoSkip: false, maxRotation: 0, padding: 2.5, color: '#000',
            font: { family: SERIF, size: 50 },
            callback: v => String(v)
          }
        },
        y: {
          type: 'linear', min: Y_MIN, max: Y_MAX,
          grid: { display: false, drawTicks: false },
          border: { display: false },
          afterBuildTicks: s => { s.ticks = yTicks.map(v => ({ value: v })); },
          afterFit: s => { s.width = yWidth; noLabelPadding(s); },
          ticks: {
            display: p.yLabels,
            autoSkip: false, padding: 17, color: '#000',
            font: { family: SERIF, size: 50 },
            callback: v => (v < 0 ? '\u2212' : '') + Math.abs(v).toFixed(1)
          }
        }
      }
    }
  });
}

panels.forEach(buildPanel);
</script>
</body>
</html>
